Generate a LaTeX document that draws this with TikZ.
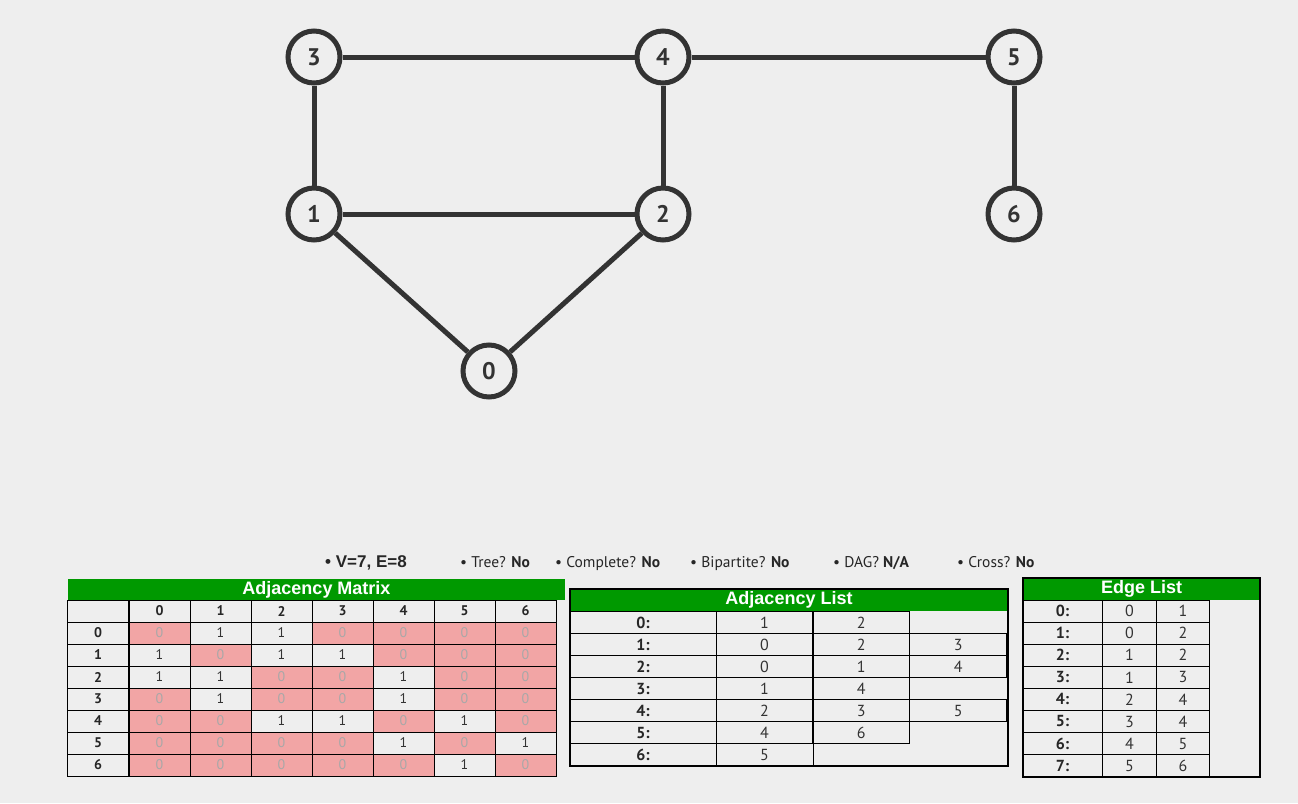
\documentclass[tikz,border=0pt]{standalone}
\usepackage{fontspec}
\setmainfont{PT Sans}
\newfontfamily\headfont{Liberation Sans}
\definecolor{pagebg}{HTML}{EEEEEE}
\definecolor{ink}{HTML}{333333}
\definecolor{barcol}{HTML}{009900}
\definecolor{zerocol}{HTML}{F2A5A5}
\definecolor{zerotext}{HTML}{A8A8A8}

\tikzset{
  vertex/.style={circle,draw=ink,line width=5pt,fill=pagebg,minimum size=52pt,inner sep=0pt,
    text=ink,font=\fontsize{24}{26}\selectfont\bfseries},
  link/.style={draw=ink,line width=5pt},
  cell/.style={draw=black,line width=1pt,inner sep=0pt,minimum height=22pt,
    font=\fontsize{14}{16}\selectfont,text=ink},
  val0/.style={fill=zerocol,text=zerotext},
  val1/.style={},
  headcell/.style={cell,font=\fontsize{14}{16}\selectfont\bfseries,text=black!85},
  listcell/.style={cell,font=\fontsize{16}{18}\selectfont},
  listhead/.style={cell,font=\fontsize{16}{18}\selectfont\bfseries,text=black!85},
  titlebar/.style={fill=barcol,text=white,inner sep=0pt,font=\headfont\fontsize{18}{20}\selectfont\bfseries},
  fact/.style={anchor=base west,inner sep=0pt,text=black!85,font=\fontsize{15.5}{17}\selectfont}
}

\begin{document}
\begin{tikzpicture}[x=1pt,y=-1pt]

        \fill[pagebg] (0,0) rectangle (1298,803);
        \useasboundingbox (0,0) rectangle (1298,803);

        % graph
        \begin{scope}[every node/.style={vertex}]
          \node (0) at (489,371) {0};
          \node (1) at (314,214) {1};
          \node (2) at (663,214) {2};
          \node (3) at (314,57)  {3};
          \node (4) at (663,57)  {4};
          \node (5) at (1014,57) {5};
          \node (6) at (1014,214) {6};
        \end{scope}

        \begin{scope}[every edge/.style={link}]
          \path (3) edge (4);
          \path (4) edge (5);
          \path (3) edge (1);
          \path (4) edge (2);
          \path (1) edge (2);
          \path (1) edge (0);
          \path (2) edge (0);
          \path (5) edge (6);
        \end{scope}

        % properties
        \node[fact] (ve) at (325,567) {\headfont\fontsize{17}{19}\selectfont\bfseries • V=7, E=8};
        \node[fact] (tree) at (460,567) {• Tree? \textbf{No}};
        \node[fact] (complete) at (555,567) {• Complete? \textbf{No}};
        \node[fact] (bipartite) at (690,567) {• Bipartite? \textbf{No}};
        \node[fact] (dag) at (833,567) {• DAG? \textbf{N/A}};
        \node[fact] (cross) at (957,567) {• Cross? \textbf{No}};

        % adjacency matrix
        \node[titlebar,minimum width=497pt,minimum height=21pt] (mtitle) at (316.5,589.5) {Adjacency Matrix};
        \node[headcell,minimum width=61pt] (mcorner) at (98,611) {};
        \foreach \c in {0,...,6}
          \node[headcell,minimum width=61pt] (mc\c) at (159.5+61*\c,611) {\c};
        \foreach \r/\row in {0/{0,1,1,0,0,0,0},1/{1,0,1,1,0,0,0},2/{1,1,0,0,1,0,0},
            3/{0,1,0,0,1,0,0},4/{0,0,1,1,0,1,0},5/{0,0,0,0,1,0,1},6/{0,0,0,0,0,1,0}} {
          \node[headcell,minimum width=61pt] (mr\r) at (98,633+22*\r) {\r};
          \foreach \v [count=\c from 0] in \row
            \node[cell,val\v,minimum width=61pt] (m\r\c) at (159.5+61*\c,633+22*\r) {\v};
        }

        % adjacency list
        \node[titlebar,minimum width=438pt,minimum height=22pt] (atitle) at (789,600) {Adjacency List};
        \foreach \r/\row in {0/{1,2},1/{0,2,3},2/{0,1,4},3/{1,4},4/{2,3,5},5/{4,6},6/{5}} {
          \node[listhead,minimum width=146pt] (ar\r) at (643,622.7+22*\r) {\r:};
          \foreach \v [count=\c from 0] in \row
            \node[listcell,minimum width=97pt] (a\r\c) at (764.5+96.8*\c,622.7+22*\r) {\v};
        }
        \draw[line width=2pt] (570,589) rectangle (1008,766);

        % edge list
        \node[titlebar,minimum width=237pt,minimum height=22pt] (etitle) at (1141.5,589) {Edge List};
        \foreach \r/\a/\b in {0/0/1,1/0/2,2/1/2,3/1/3,4/2/4,5/3/4,6/4/5,7/5/6} {
          \node[listhead,minimum width=79.5pt] (er\r) at (1062.5,611+22.1*\r) {\r:};
          \node[listcell,minimum width=54.5pt] (ea\r) at (1129.5,611+22.1*\r) {\a};
          \node[listcell,minimum width=52.5pt] (eb\r) at (1183,611+22.1*\r) {\b};
        }
        \draw[line width=1.5pt] (1023,578) rectangle (1260,777);

      \end{tikzpicture}
\end{document}
